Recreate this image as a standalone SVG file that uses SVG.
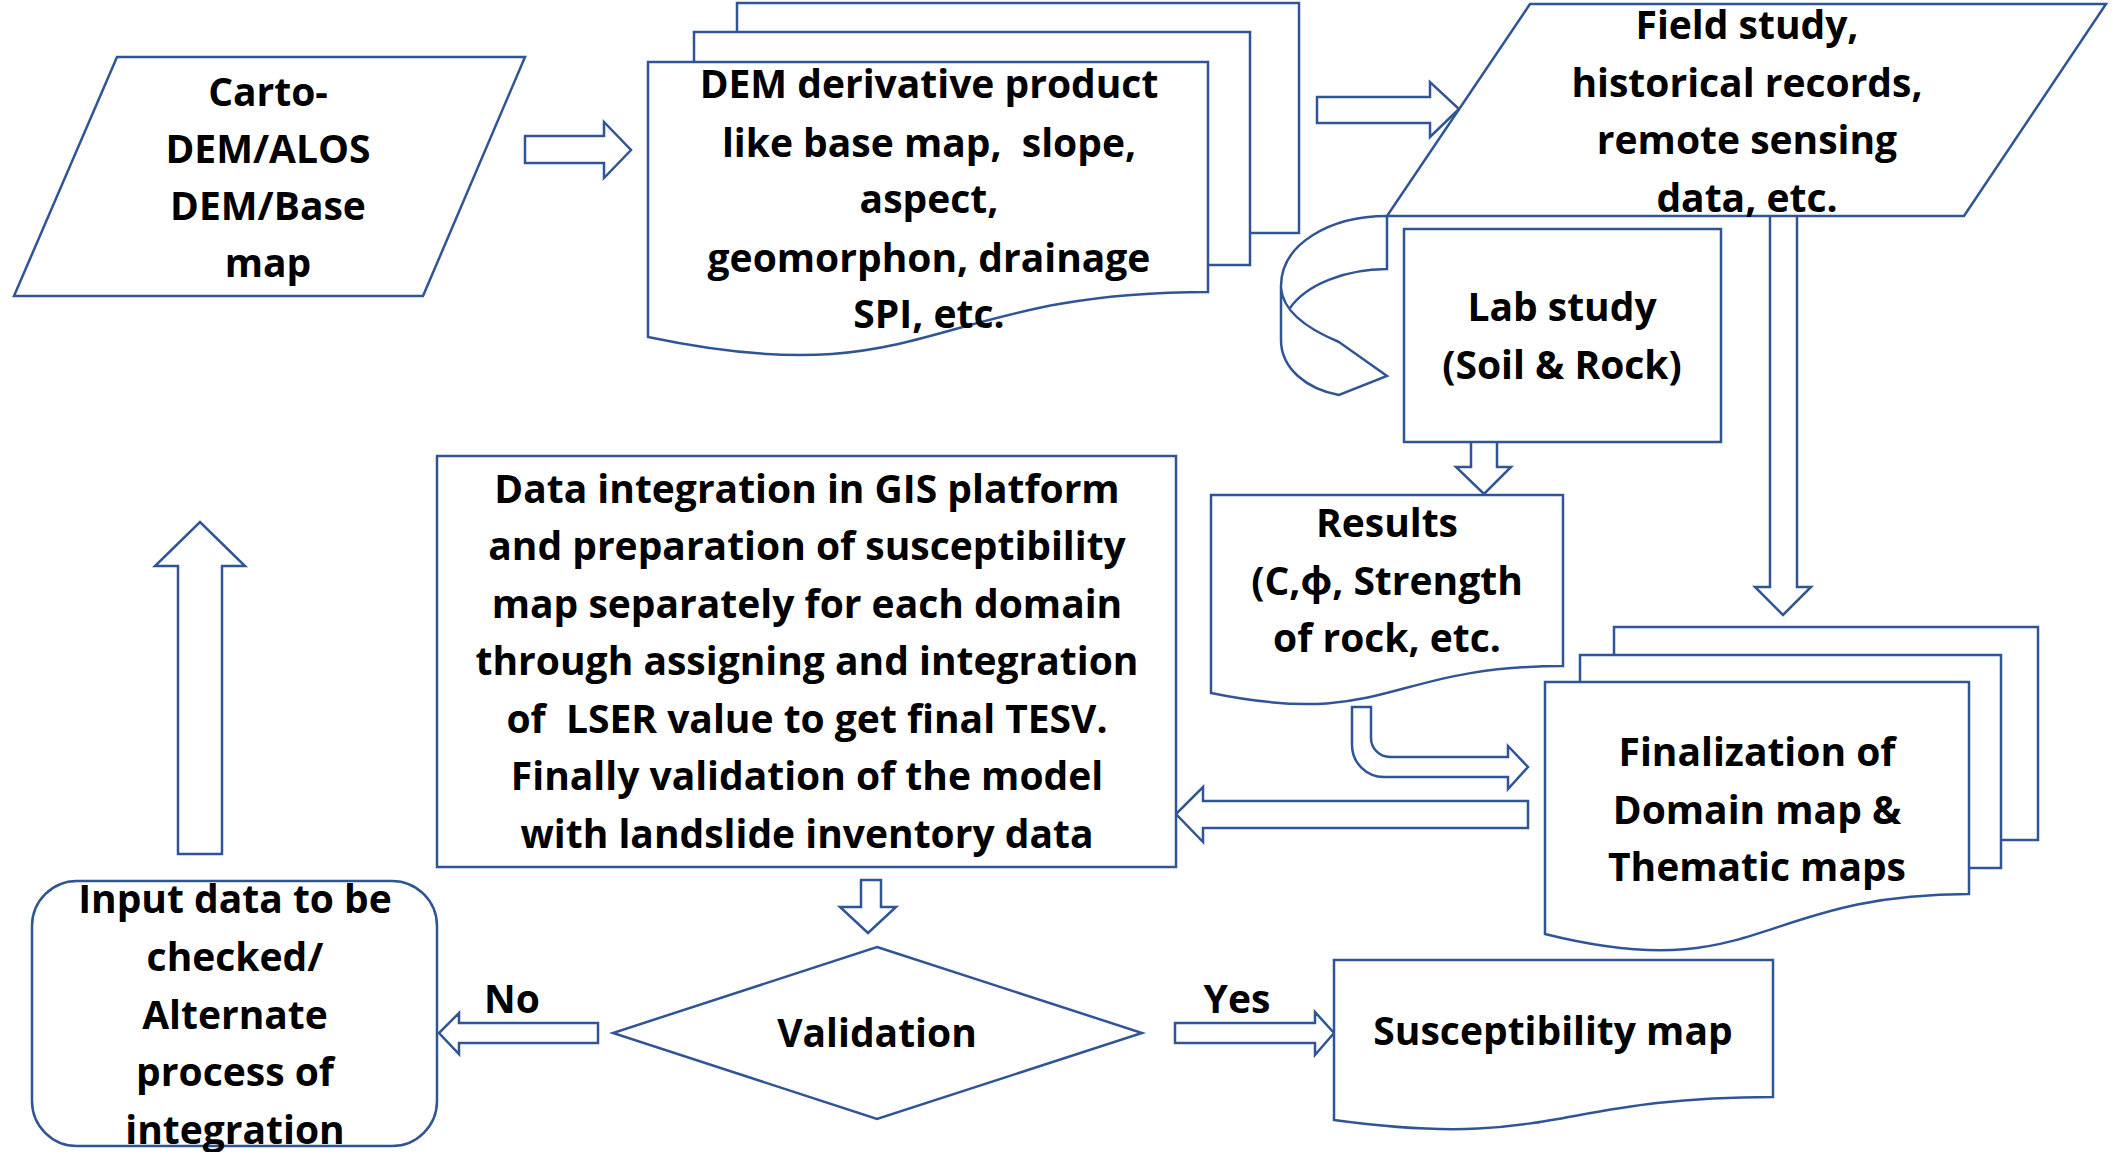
<svg xmlns="http://www.w3.org/2000/svg" width="2115" height="1152" viewBox="0 0 2115 1152">
  <style>
    .shape { fill: #ffffff; stroke: #2F5597; stroke-width: 2.5; stroke-linejoin: miter; }
    .line { fill: none; stroke: #2F5597; stroke-width: 2.5; }
    .arrow { fill: #ffffff; stroke: #2F5597; stroke-width: 2.5; stroke-linejoin: miter; }
    text { font-family: "Open Sans", "Noto Sans", "DejaVu Sans", sans-serif; font-weight: 700; font-size: 39px; fill: #000000; text-anchor: middle; white-space: pre; }
  </style>

  <rect x="0" y="0" width="2115" height="1152" fill="#ffffff"/>

  <!-- Connectors: block arrows -->
  <g id="connectors">
    <path class="arrow" d="M525,136 H604 V122 L631,150 L604,178 V163 H525 Z"/>
    <path class="arrow" d="M1317,97 H1430 V82 L1459,109 L1430,137 V123 H1317 Z"/>
    <path class="arrow" d="M1770,216 V587 H1755 L1783,615 L1811,587 H1797 V216"/>
    <path class="arrow" d="M1471,442 V467 H1456 L1484,494 L1511,467 H1497 V442"/>
    <path class="arrow" d="M1352,707 V745 A32,32 0 0 0 1384,777 H1508 V789 L1528,767 L1508,746 V757 H1390 A19,19 0 0 1 1371,738 V707 Z"/>
    <path class="arrow" d="M1528,801 H1203 V787 L1176,814 L1203,842 V828 H1528 Z"/>
    <path class="arrow" d="M861,880 V907 H840 L868,933 L896,907 H881 V880 Z"/>
    <path class="arrow" d="M598,1023 H459 V1013 L439,1033 L459,1054 V1043 H598 Z"/>
    <path class="arrow" d="M1175,1023 H1315 V1012 L1334,1033 L1315,1055 V1043 H1175 Z"/>
    <path class="arrow" d="M178,854 V566 H155 L200,522 L245,566 H222 V854 Z"/>
    <!-- circular arrow from field data round to the lab study -->
    <path class="arrow" d="M1387,216 C1330,216 1281,244 1281,286 L1281,340 C1281,368 1306,389 1339,395 L1387,376 L1339,342 C1310,330 1283,312 1281,288"/>
    <path class="line" d="M1290,308 C1306,285 1345,269 1387,269 L1387,216"/>
    <text x="512" y="1013">No</text>
    <text x="1237" y="1013">Yes</text>
  </g>

  <!-- Source data -->
  <g id="carto-dem">
    <polygon class="shape" points="117,57 525,57 423,296 14,296"/>
    <text x="268" y="106">Carto-</text>
    <text x="268" y="163">DEM/ALOS</text>
    <text x="268" y="220">DEM/Base</text>
    <text x="268" y="277">map</text>
  </g>

  <!-- DEM derivative products (multi-document) -->
  <g id="dem-derivatives">
    <rect class="shape" x="737" y="3" width="562" height="230"/>
    <rect class="shape" x="694" y="32" width="556" height="233"/>
    <path class="shape" d="M648,62 H1208 V292 C928,292 928,396 648,337 Z"/>
    <text x="929" y="98">DEM derivative product</text>
    <text x="929" y="157">like base map,  slope,</text>
    <text x="929" y="213">aspect,</text>
    <text x="929" y="272">geomorphon, drainage</text>
    <text x="929" y="328">SPI, etc.</text>
  </g>

  <!-- Field data -->
  <g id="field-study">
    <polygon class="shape" points="1530,4 2106,4 1964,216 1387,216"/>
    <text x="1747" y="39">Field study,</text>
    <text x="1747" y="97">historical records,</text>
    <text x="1747" y="154">remote sensing</text>
    <text x="1747" y="212">data, etc.</text>
  </g>

  <!-- Lab study -->
  <g id="lab-study">
    <rect class="shape" x="1404" y="229" width="317" height="213"/>
    <text x="1562" y="321">Lab study</text>
    <text x="1562" y="379">(Soil &amp; Rock)</text>
  </g>

  <!-- Lab results -->
  <g id="results">
    <path class="shape" d="M1211,495 H1563 V666 C1387,666 1387,729 1211,693 Z"/>
    <text x="1387" y="537">Results</text>
    <text x="1387" y="595">(C,ϕ, Strength</text>
    <text x="1387" y="652">of rock, etc.</text>
  </g>

  <!-- Finalization (multi-document) -->
  <g id="finalization">
    <rect class="shape" x="1614" y="627" width="424" height="213"/>
    <rect class="shape" x="1580" y="655" width="421" height="213"/>
    <path class="shape" d="M1545,682 H1969 V894 C1757,894 1757,987 1545,934 Z"/>
    <text x="1757" y="766">Finalization of</text>
    <text x="1757" y="824">Domain map &amp;</text>
    <text x="1757" y="881">Thematic maps</text>
  </g>

  <!-- GIS integration -->
  <g id="data-integration">
    <rect class="shape" x="437" y="456" width="739" height="411"/>
    <text x="807" y="503">Data integration in GIS platform</text>
    <text x="807" y="560">and preparation of susceptibility</text>
    <text x="807" y="618">map separately for each domain</text>
    <text x="807" y="675">through assigning and integration</text>
    <text x="807" y="733">of  LSER value to get final TESV.</text>
    <text x="807" y="790">Finally validation of the model</text>
    <text x="807" y="848">with landslide inventory data</text>
  </g>

  <!-- Decision -->
  <g id="validation">
    <polygon class="shape" points="877,947 1142,1033 877,1119 613,1033"/>
    <text x="877" y="1047">Validation</text>
  </g>

  <!-- Output -->
  <g id="susceptibility-map">
    <path class="shape" d="M1334,960 H1773 V1097 C1553,1097 1553,1150 1334,1120 Z"/>
    <text x="1553" y="1045">Susceptibility map</text>
  </g>

  <!-- Feedback -->
  <g id="input-check">
    <rect class="shape" x="32" y="881" width="405" height="265" rx="45" ry="45"/>
    <text x="235" y="913">Input data to be</text>
    <text x="235" y="971">checked/</text>
    <text x="235" y="1029">Alternate</text>
    <text x="235" y="1086">process of</text>
    <text x="235" y="1144">integration</text>
  </g>
</svg>
